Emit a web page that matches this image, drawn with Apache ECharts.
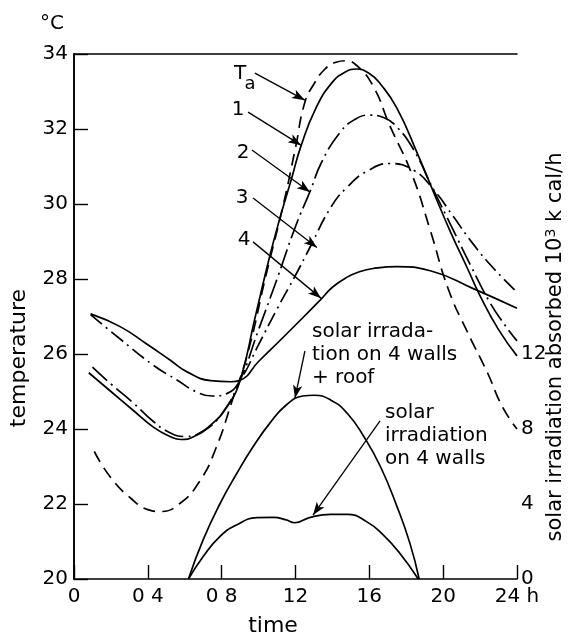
<!DOCTYPE html>
<html>
<head>
<meta charset="utf-8">
<script src="https://cdn.jsdelivr.net/npm/echarts@6/dist/echarts.min.js"></script>
<style>
  html, body { margin: 0; padding: 0; background: #fff; }
  #chart { width: 570px; height: 638px; }
</style>
</head>
<body>
<div id="chart"></div>
<script>
// time of day (h) and temperature (°C)
var taHours = [1.1, 2.0, 3.2, 4.0, 4.7, 5.7, 6.8, 7.7, 8.6, 9.4, 10.4, 11.3, 12.0, 12.5, 13.0, 13.6, 14.2, 14.7, 15.3, 16.2, 17.1, 18.3, 19.3, 20.3, 21.3, 22.4, 23.2, 24]
var taTemp  = [23.4, 22.7, 22.1, 21.85, 21.8, 22.0, 22.6, 23.5, 24.8, 26.0, 28.1, 29.9, 31.5, 32.7, 33.2, 33.6, 33.78, 33.82, 33.7, 33.15, 32.1, 30.8, 29.3, 27.7, 26.6, 25.5, 24.6, 24.0]

var c1Hours = [0.8, 2.0, 3.2, 4.3, 5.2, 5.8, 6.5, 7.4, 8.3, 9.0, 9.8, 10.6, 11.2, 11.8, 12.3, 13.1, 14.0, 14.7, 15.3, 16.0, 16.6, 17.5, 18.6, 19.45, 20.4, 21.3, 22.0, 23.0, 24]
var c1Temp  = [25.5, 25.0, 24.5, 24.05, 23.8, 23.72, 23.8, 24.1, 24.6, 25.3, 26.95, 28.6, 29.7, 30.7, 31.55, 32.55, 33.25, 33.52, 33.6, 33.48, 33.2, 32.55, 31.35, 30.35, 29.25, 28.3, 27.55, 26.65, 25.95]

var c2Hours = [1.0, 2.0, 3.2, 4.3, 5.2, 6.0, 7.0, 8.0, 9.0, 10.0, 11.0, 12.0, 12.8, 13.4, 14.4, 15.2, 16.0, 16.8, 17.5, 18.4, 19.4, 20.5, 21.5, 22.5, 23.3, 24]
var c2Temp  = [25.65, 25.2, 24.7, 24.2, 23.9, 23.8, 23.95, 24.4, 25.3, 26.65, 28.0, 29.4, 30.35, 31.1, 31.9, 32.25, 32.37, 32.3, 32.05, 31.45, 30.45, 29.35, 28.35, 27.4, 26.8, 26.35]

var c3Hours = [0.9, 2.5, 4.3, 5.6, 6.6, 7.5, 8.3, 9.0, 10.0, 11.0, 12.0, 12.8, 13.9, 14.8, 15.9, 17.1, 18.4, 19.5, 20.5, 21.6, 22.7, 24]
var c3Temp  = [27.05, 26.4, 25.7, 25.3, 25.0, 24.88, 24.95, 25.3, 26.25, 27.2, 28.1, 28.86, 29.9, 30.45, 30.88, 31.08, 30.9, 30.37, 29.7, 28.95, 28.3, 27.65]

var c4Hours = [0.9, 2.5, 3.9, 5.2, 6.1, 7.4, 8.5, 9.0, 10.0, 11.2, 12.3, 13.4, 14.0, 14.8, 15.5, 16.2, 17.5, 19.3, 21.6, 24]
var c4Temp  = [27.07, 26.73, 26.28, 25.84, 25.53, 25.29, 25.26, 25.3, 25.8, 26.38, 26.92, 27.47, 27.78, 28.05, 28.2, 28.28, 28.33, 28.22, 27.75, 27.22]

// solar irradiation absorbed, 10^3 kcal/h (right axis)
var roofHours = [6.2, 7.0, 7.9, 8.8, 9.7, 10.6, 11.5, 12.4, 13.0, 13.9, 14.8, 15.7, 16.6, 17.5, 18.2, 18.7]
var roofSolar = [0, 2.1, 4.0, 5.6, 7.05, 8.3, 9.28, 9.76, 9.8, 9.55, 8.84, 7.6, 6.0, 3.86, 1.9, 0]

var wallHours = [6.2, 7.0, 7.9, 8.8, 9.9, 10.8, 11.5, 11.95, 12.8, 13.9, 14.8, 15.85, 16.75, 17.65, 18.65]
var wallSolar = [0, 1.2, 2.26, 2.88, 3.27, 3.29, 3.15, 3.0, 3.29, 3.45, 3.45, 3.06, 2.35, 1.37, 0]

var xTickLabels = {0: '0', 4: '0 4', 8: '0 8', 12: '12', 16: '16', 20: '20', 24: '24 h'}

var FONT = 'DejaVu Sans'

function pairs (xs, ys) {
  return xs.map(function (x, i) { return [x, ys[i]] })
}

// label arrows, [from, to] in axis units
var tempArrows = [
  [[9.80, 33.49], [12.51, 32.77]],
  [[9.43, 32.45], [12.30, 31.57]],
  [[9.64, 31.44], [12.78, 30.32]],
  [[9.70, 30.16], [13.16, 28.84]],
  [[9.70, 28.99], [13.38, 27.49]]
]
var solarArrows = [
  [[12.51, 12.16], [11.97, 9.65]],
  [[16.58, 8.43], [12.95, 3.41]]
]

function arrowMarks (list) {
  return {
    silent: true,
    symbol: ['none', 'arrow'],
    symbolSize: [7, 13],
    label: { show: false },
    lineStyle: { color: '#000', width: 1.3, type: 'solid' },
    emphasis: { disabled: true },
    animation: false,
    data: list.map(function (a) {
      return [{ coord: a[0] }, { coord: a[1] }]
    })
  }
}

function curve (name, data, type, yIdx) {
  return {
    name: name,
    type: 'line',
    yAxisIndex: yIdx || 0,
    data: data,
    smooth: 0.5,
    showSymbol: false,
    silent: true,
    lineStyle: { color: '#000', width: 1.7, type: type }
  }
}

var series = [
  curve('Ta', pairs(taHours, taTemp), [12, 7]),
  curve('1', pairs(c1Hours, c1Temp), 'solid'),
  curve('2', pairs(c2Hours, c2Temp), [20, 5, 2, 5]),
  curve('3', pairs(c3Hours, c3Temp), [15, 5, 2, 5]),
  curve('4', pairs(c4Hours, c4Temp), 'solid'),
  curve('roof', pairs(roofHours, roofSolar), 'solid', 1),
  curve('walls', pairs(wallHours, wallSolar), 'solid', 1)
]
series[0].markLine = arrowMarks(tempArrows)
series[5].markLine = arrowMarks(solarArrows)

var txt = { fill: '#000', fontFamily: FONT, fontSize: 20 }
function label (x, y, text, extra, rot) {
  var style = Object.assign({ text: text, align: 'center', verticalAlign: 'middle' }, txt, extra || {})
  return { type: 'text', x: x, y: y, rotation: rot || 0, silent: true, style: style }
}

var option = {
  backgroundColor: '#fff',
  animation: false,
  grid: { left: 74, right: 53, top: 54, bottom: 59 },
  xAxis: [
    {
      type: 'value', min: 0, max: 24, interval: 4,
      axisLine: { lineStyle: { color: '#000', width: 1.6 } },
      axisTick: { inside: true, length: 14, lineStyle: { color: '#000', width: 1.4 } },
      axisLabel: {
        color: '#000', fontFamily: FONT, fontSize: 20, margin: 8,
        formatter: function (v) { return xTickLabels[v] }
      },
      splitLine: { show: false }
    },
    {
      type: 'value', min: 0, max: 24, position: 'top',
      axisLine: { lineStyle: { color: '#000', width: 1.6 } },
      axisTick: { show: false }, axisLabel: { show: false }, splitLine: { show: false }
    }
  ],
  yAxis: [
    {
      type: 'value', min: 20, max: 34, interval: 2,
      axisLine: { show: true, lineStyle: { color: '#000', width: 1.6 } },
      axisTick: { inside: true, length: 14, lineStyle: { color: '#000', width: 1.4 } },
      axisLabel: { color: '#000', fontFamily: FONT, fontSize: 20, margin: 6 },
      splitLine: { show: false }
    },
    {
      type: 'value', min: 0, max: 28, interval: 4, position: 'right',
      axisLine: { show: true, lineStyle: { color: '#000', width: 1.6 } },
      axisTick: { show: false },
      axisLabel: {
        color: '#000', fontFamily: FONT, fontSize: 20, margin: 4,
        formatter: function (v) { return v <= 12 ? String(v) : '' }
      },
      splitLine: { show: false }
    }
  ],
  series: series,
  graphic: [
    label(52, 24, '°C'),
    label(19, 358, 'temperature', { fontSize: 22 }, Math.PI / 2),
    label(273, 626, 'time', { fontSize: 22 }),
    {
      type: 'text', x: 556, y: 347, rotation: Math.PI / 2, silent: true,
      style: {
        text: 'solar irradiation absorbed 10{sup|3} k cal/h',
        align: 'center', verticalAlign: 'middle',
        fill: '#000', fontFamily: FONT, fontSize: 21,
        rich: { sup: { fontFamily: FONT, fontSize: 14, padding: [0, 0, 10, 0] } }
      }
    },
    label(240, 74, 'T'),
    label(250, 84, 'a', { fontSize: 18 }),
    label(238, 110, '1'),
    label(243, 153, '2'),
    label(242, 198, '3'),
    label(244, 240, '4'),
    {
      type: 'text', x: 312, y: 320, silent: true,
      style: Object.assign({ text: 'solar irrada-\ntion on 4 walls\n+ roof', lineHeight: 23 }, txt)
    },
    {
      type: 'text', x: 385, y: 401, silent: true,
      style: Object.assign({ text: 'solar\nirradiation\non 4 walls', lineHeight: 23 }, txt)
    }
  ]
}

var chart = echarts.init(document.getElementById('chart'), null, { renderer: 'canvas' })
chart.setOption(option)
</script>
</body>
</html>
